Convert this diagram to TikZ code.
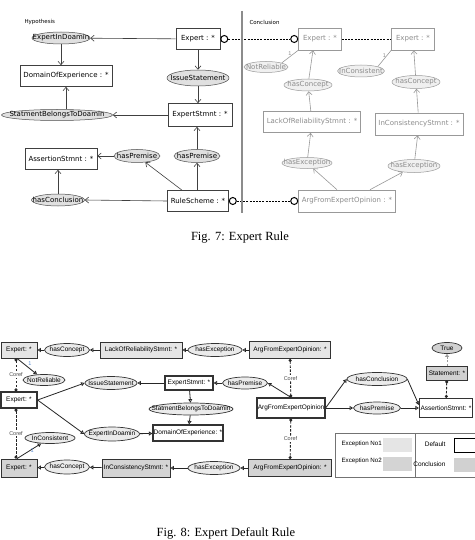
\documentclass[tikz,border=0pt]{standalone}
\usepackage{fontspec}
\setmainfont{Liberation Serif}
\newfontfamily\hypfont{DejaVu Sans}
\newfontfamily\cgfont{Liberation Sans}
\usetikzlibrary{arrows.meta,shapes.geometric}
\definecolor{exone}{gray}{0.9}
\definecolor{extwo}{gray}{0.83}
\definecolor{concl}{gray}{0.82}
\definecolor{cardblue}{RGB}{90,140,210}
\begin{document}
\begin{tikzpicture}[x=1pt,y=-1pt,
  flat/.style={inner sep=0pt,execute at begin node=\hbox to 0pt\bgroup\hss,execute at end node=\hss\egroup},
  rfont/.style={font=\hypfont\fontsize{7}{8}\selectfont},
  dfont/.style={font=\cgfont\fontsize{6.5}{7}\selectfont},
  rbox/.style={flat,rfont,draw=black!75,fill=white,line width=0.6pt,minimum width=#1,minimum height=21pt},
  rrel/.style={flat,rfont,ellipse,draw=black!70,fill=black!12,line width=0.5pt,minimum width=#1,minimum height=12pt},
  faded/.style={draw=black!40,text=black!45},
  fadedrel/.style={draw=black!40,text=black!45,fill=black!6},
  rarr/.style={draw=black!75,line width=0.6pt,-{Straight Barb[length=3.5pt,width=6pt]}},
  farr/.style={rarr,draw=black!40},
  hookring/.style={circle,draw=black,line width=1pt,minimum size=7pt,inner sep=0pt},
  linkline/.style={draw=black,dash pattern=on 2pt off 1.2pt,line width=0.8pt},
  dbox/.style={flat,dfont,draw=black!80,line width=0.8pt,minimum width=#1,minimum height=16pt},
  defbox/.style={dbox=#1,fill=white,line width=1.2pt},
  drel/.style={flat,dfont,ellipse,draw=black!80,fill=black!8,line width=0.7pt,minimum width=#1,minimum height=13pt},
  darr/.style={draw=black!85,line width=0.8pt,-{Triangle[open,length=3.5pt,width=4pt]}},
  coref/.style={draw=black!85,line width=0.9pt,dash pattern=on 2.5pt off 1.5pt,{Circle[length=3pt]}-{Circle[length=3pt]}},
  creflab/.style={fill=white,inner sep=0.8pt,text=black!70,font=\cgfont\fontsize{5.5}{6}\selectfont},
  card/.style={inner sep=1pt,text=cardblue,font=\cgfont\fontsize{5.5}{6}\selectfont},
  figcap/.style={font=\fontsize{12.5}{14}\selectfont},
  side/.style={anchor=west,font=\hypfont\fontsize{5.5}{6}\selectfont}
  ]
\useasboundingbox[fill=white] (0,0) rectangle (474,540);

\node[side] (hyp) at (21,22) {Hypothesis};
\node[rrel=58] (eid) at (61,38) {ExpertInDoamin};
\node[rbox=92] (doe) at (66,76) {DomainOfExperience : *};
\node[rrel=111,minimum height=11pt] (sbd) at (57,115) {StatmentBelongsToDoamin};
\node[rbox=72] (ast) at (61,159) {AssertionStmnt : *};
\node[rrel=46,minimum height=13pt] (hp1) at (137,156) {hasPremise};
\node[rrel=53] (hcl) at (58,200) {hasConclusion};
\node[rbox=44] (exp) at (198,39) {Expert : *};
\node[rrel=62,minimum height=16pt] (iss) at (198,78) {IssueStatement};
\node[rbox=64,minimum height=23pt] (est) at (200,115) {ExpertStmnt : *};
\node[rrel=46,minimum height=13pt] (hp2) at (197,156) {hasPremise};
\node[rbox=61] (rs) at (198,201) {RuleScheme : *};
\node[hookring,anchor=west] (c1) at (exp.east) {};
\node[hookring,anchor=west] (c2) at (rs.east) {};

\node[side] (con) at (246,22) {Conclusion};
\node[rbox=43,faded,minimum height=22pt] (e1) at (320,39) {Expert : *};
\node[rbox=43,faded,minimum height=22pt] (e2) at (413,39) {Expert : *};
\node[rrel=44,minimum height=11pt,fadedrel] (nr) at (266,67) {NotReliable};
\node[rrel=48,fadedrel] (hc1) at (308,85) {hasConcept};
\node[rbox=97,faded] (lrs) at (312,122) {LackOfReliabilityStmnt : *};
\node[rrel=50,minimum height=11pt,fadedrel] (he1) at (307,163) {hasException};
\node[rbox=97,faded,minimum height=22pt] (afe) at (347,201) {ArgFromExpertOpinion : *};
\node[rrel=47,fadedrel] (inc) at (361,71) {InConsistent};
\node[rrel=48,minimum height=13pt,fadedrel] (hc2) at (416,82) {hasConcept};
\node[rbox=88,faded,minimum height=22pt] (ics) at (419,124) {InConsistencyStmnt : *};
\node[rrel=52,minimum height=13pt,fadedrel] (he2) at (414,166) {hasException};
\node[hookring,anchor=east] (c3) at (e1.west) {};
\node[hookring,anchor=east] (c4) at (afe.west) {};

\draw[rarr] (exp) -- (eid);
\draw[rarr] (eid.south) -- (eid.south |- doe.north);
\draw[rarr] (exp) -- (iss);
\draw[rarr] (iss.south) -- (iss.south |- est.north);
\draw[rarr] (est.west) -- (sbd.east);
\draw[rarr] (sbd.north -| doe) -- (doe.south);
\draw[rarr] (rs.north -| hp2) -- (hp2.south);
\draw[rarr] (hp2.north) -- (hp2.north |- est.south);
\draw[rarr] ([xshift=-16pt]rs.north) -- (hp1);
\draw[rarr] (hp1.west) -- (hp1.west -| ast.east);
\draw[rarr] (rs.west) -- (hcl.east);
\draw[rarr] (hcl.north) -- (hcl.north |- ast.south);

\draw[farr] ([xshift=-10pt]afe.north) -- (he1);
\draw[farr] ([xshift=23pt]afe.north) -- (he2);
\draw[farr] (he1) -- (lrs);
\draw[farr] (lrs) -- (hc1);
\draw[farr] (hc1) -- ([xshift=-7pt]e1.south);
\draw[farr] (he2) -- (ics);
\draw[farr] (ics) -- (hc2);
\draw[farr] (hc2) -- (e2);
\draw[black!40,line width=0.6pt] (nr.north east) -- node[card,text=black!45,above] (n1) {1} (e1.south west);
\draw[black!40,line width=0.6pt] (inc.north east) -- node[card,text=black!45,above] (n2) {1} (e2.south west);
\draw[linkline] (c1) -- (c3);
\draw[linkline] (e1) -- (e2);
\draw[linkline] (c2) -- (c4);
\draw[line width=2pt,black!45] (242,11) -- (242,213);

\node[figcap] (cap7) at (240,238) {Fig. 7: Expert Rule};

\node[dbox=36,fill=exone] (x1) at (19,350) {Expert: *};
\node[drel=45] (hca) at (67,350) {hasConcept};
\node[dbox=82,fill=exone] (lrsb) at (141,350) {LackOfReliabilityStmnt: *};
\node[drel=54] (hea) at (215,350) {hasException};
\node[dbox=81,fill=exone,minimum height=17pt] (afa) at (290,350) {ArgFromExpertOpinion: *};
\node[defbox=36] (x2) at (19,400) {Expert: *};
\node[drel=42,minimum height=11pt] (nrb) at (44,380) {NotReliable};
\node[drel=52] (issb) at (111,383) {IssueStatement};
\node[defbox=48,minimum height=14pt] (estb) at (189,383) {ExpertStmnt: *};
\node[drel=45,minimum height=12pt] (hpb) at (245,383) {hasPremise};
\node[drel=84,minimum height=12pt] (sbdb) at (191,409) {StatmentBelongsToDoamin};
\node[defbox=70] (doeb) at (188,433) {DomainOfExperience: *};
\node[drel=55,minimum height=14pt] (eidb) at (112,434) {ExpertInDoamin};
\node[defbox=68,minimum height=20pt] (afm) at (291,408) {ArgFromExpertOpinion};
\node[drel=60] (hcc) at (377,379) {hasConclusion};
\node[drel=47,minimum height=12pt] (hpc) at (377,408) {hasPremise};
\node[defbox=53,minimum height=19pt] (asb) at (446,408) {AssertionStmnt: *};
\node[dbox=41,fill=concl,minimum height=14pt] (stb) at (447,373) {Statement: *};
\node[drel=30,minimum height=11pt,fill=concl] (trb) at (447,348) {True};
\node[dbox=36,fill=extwo,minimum height=18pt] (x3) at (19,468) {Expert: *};
\node[drel=50,minimum height=11pt] (incb) at (50,438) {InConsistent};
\node[drel=45,minimum height=14pt] (hcd) at (67,467) {hasConcept};
\node[dbox=68,fill=extwo,minimum height=18pt] (icsb) at (136,468) {InConsistencyStmnt: *};
\node[drel=52] (hed) at (214,468) {hasException};
\node[dbox=83,fill=extwo,minimum height=17pt] (afd) at (290,468) {ArgFromExpertOpinion: *};

\draw[darr] (hca) -- (x1);
\draw[darr] (lrsb) -- (hca);
\draw[darr] (hea) -- (lrsb);
\draw[darr] (afa) -- (hea);
\draw[darr] ([xshift=-2pt]x1.south) -- node[card,above right] (n3) {1} (nrb);
\draw[coref] ([xshift=-3pt]x1.south) -- node[creflab] (r1) {Coref} ([xshift=-3pt]x2.north);
\draw[darr] (x2.east) -- (issb.west);
\draw[darr] (estb) -- (issb);
\draw[darr] (hpb) -- (estb);
\draw[darr] (afm.north) -- (hpb.east);
\draw[darr] (estb) -- (sbdb);
\draw[darr] (sbdb) -- (doeb);
\draw[darr] (x2.east) -- (eidb.west);
\draw[darr] (eidb) -- (doeb);
\draw[coref] ([xshift=-3pt]x2.south) -- node[creflab] (r2) {Coref} ([xshift=-3pt]x3.north);
\draw[darr] ([xshift=-2pt]x3.north) -- node[card,right] (n4) {1} (incb);
\draw[darr] (hcd) -- (x3);
\draw[darr] (icsb) -- (hcd);
\draw[darr] (hed) -- (icsb);
\draw[darr] (afd) -- (hed);
\draw[coref] (afa) -- node[creflab] (r3) {Coref} (afm);
\draw[coref] (afm) -- node[creflab] (r4) {Coref} (afd);
\draw[darr] (afm.east) -- (hcc.west);
\draw[darr] (hcc.east) -- ([yshift=3pt]asb.west);
\draw[darr] (afm.east) -- (hpc);
\draw[darr] (hpc) -- (asb);
\draw[coref] (stb) -- (asb);
\draw[draw=black!40,line width=0.8pt,dash pattern=on 2pt off 1.5pt,-{Triangle[open,length=3pt,width=4pt]}] (stb) -- (trb);

\node[draw=black!55,line width=0.6pt,minimum width=145pt,minimum height=44pt,inner sep=0pt,anchor=north west] (leg) at (335,433) {};
\draw[black!55,line width=0.6pt] (415,433) -- (415,477);
\node[dfont,anchor=west,font=\cgfont\fontsize{6.2}{7}\selectfont] (l1) at (338,444) {Exception No1};
\node[fill=exone,minimum width=29pt,minimum height=14pt,inner sep=0pt] (s1) at (397.5,445) {};
\node[dfont,anchor=west,font=\cgfont\fontsize{6.2}{7}\selectfont] (l2) at (338,461) {Exception No2};
\node[fill=extwo,minimum width=29pt,minimum height=14pt,inner sep=0pt] (s2) at (397.5,464) {};
\node[dfont,anchor=east] (l3) at (449,444) {Default};
\node[draw=black,line width=1.2pt,fill=white,minimum width=22pt,minimum height=14pt,inner sep=0pt,anchor=west] (s3) at (454,445.5) {};
\node[dfont,anchor=east] (l4) at (449,464) {Conclusion};
\node[fill=concl,minimum width=22pt,minimum height=14pt,inner sep=0pt,anchor=west] (s4) at (454,465) {};

\node[figcap] (cap8) at (226,533) {Fig. 8: Expert Default Rule};
\end{tikzpicture}
\end{document}
